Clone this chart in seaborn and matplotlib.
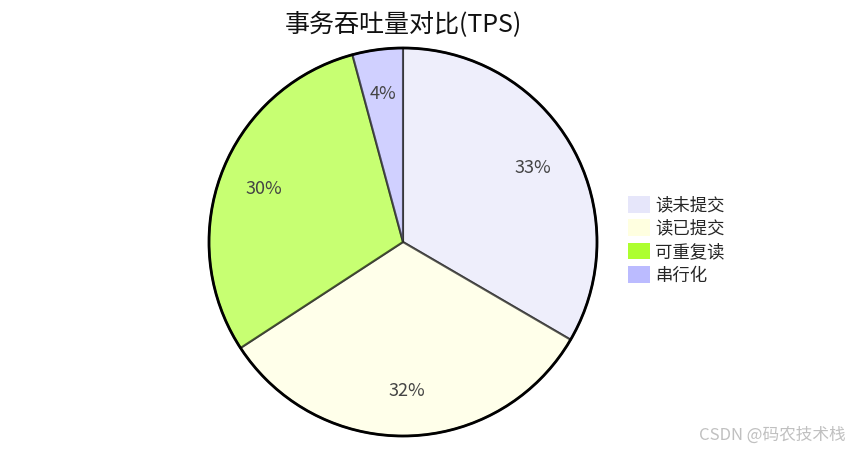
import matplotlib
matplotlib.use("Agg")
from matplotlib import pyplot as plt
from matplotlib.patches import Patch, Circle
import seaborn as sns

# isolation levels and their TPS
levels = ['读未提交', '读已提交', '可重复读', '串行化']
tps = [1002, 972, 900, 126]
colors = ['#e6e6fa', '#ffffe0', '#adff2f', '#bbbbff']
title = '事务吞吐量对比(TPS)'

sns.set_theme(style="white")
plt.rcParams['font.family'] = ['Noto Sans CJK SC', 'DejaVu Sans']

fig = plt.figure(figsize=(8.51, 4.5), dpi=100)
cx, cy, r = 403, 242, 194
ax = fig.add_axes([(cx - r) / 851, (450 - cy - r) / 450, 2 * r / 851, 2 * r / 450])

wedges, texts, autotexts = ax.pie(
    tps, colors=colors, startangle=90, counterclock=False,
    autopct='%1.0f%%', pctdistance=0.77, radius=1,
    wedgeprops=dict(edgecolor='#222222', linewidth=1.5, alpha=0.68, clip_on=False),
    textprops=dict(color='#444444', fontsize=13))
ax.add_patch(Circle((0, 0), 1, fill=False, edgecolor='black', linewidth=2, clip_on=False))
ax.set_xlim(-1, 1)
ax.set_ylim(-1, 1)
ax.set_axis_off()

fig.text(cx / 851, 1 - 25 / 450, title, ha='center', va='center', fontsize=18, color='#111111')

handles = [Patch(facecolor=c, edgecolor='none') for c in colors]
fig.legend(handles, levels, loc='upper left', bbox_to_anchor=(621 / 851, 1 - 189 / 450),
           frameon=False, fontsize=12.5, handlelength=1.25, handleheight=1.1,
           handletextpad=0.3, labelspacing=0.3, borderaxespad=0)

fig.text(846 / 851, 1 - 435 / 450, 'CSDN @码农技术栈', ha='right', va='center',
         fontsize=12, color='#c0c0c0')

fig.savefig('out.png', dpi=100)
